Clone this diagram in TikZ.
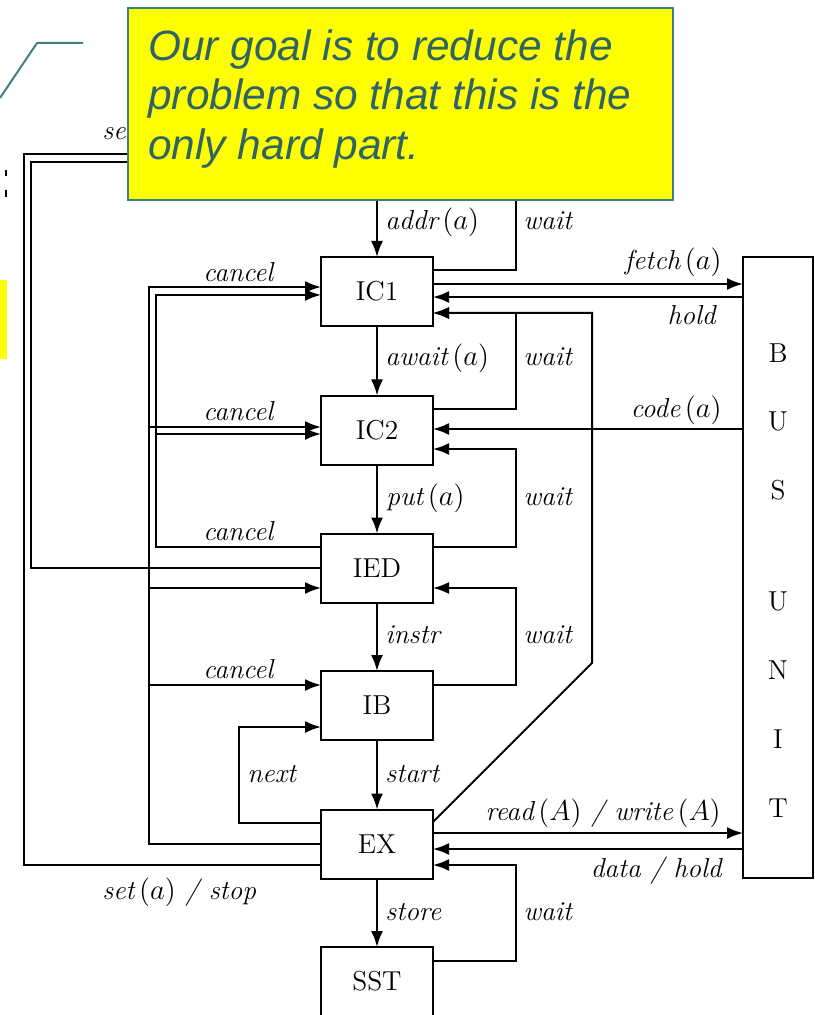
\documentclass[tikz,border=0pt]{standalone}
\usepackage{fontspec}
\newfontfamily\calloutfont{Liberation Sans}
\usetikzlibrary{arrows.meta}
\definecolor{tealline}{RGB}{64,128,128}
\definecolor{tealtext}{RGB}{47,100,100}
\definecolor{callyellow}{RGB}{255,255,0}
\begin{document}
\begin{tikzpicture}[x=0.5pt,y=-0.5pt,
  box/.style={draw, line width=1pt, minimum width=56pt, minimum height=34.5pt, inner sep=0pt, outer sep=0pt, font=\fontsize{13.7}{16}\selectfont},
  letter/.style={inner sep=0pt, font=\fontsize{13.7}{16}\selectfont},
  lbl/.style={inner sep=0pt, font=\fontsize{13.7}{16}\selectfont\itshape},
  lw/.style={lbl, anchor=base west},
  le/.style={lbl, anchor=base east},
  conn/.style={line width=1pt},
  arr/.style={conn, -{Latex[length=8pt,width=6pt]}},
  ctext/.style={inner sep=0pt, anchor=base west, text=tealtext, font=\calloutfont\itshape\fontsize{21.2}{25}\selectfont},
]
\useasboundingbox (0,0) rectangle (814,1015);

% boxes
\node[box] (IC1) at (377,291.5) {IC1};
\node[box] (IC2) at (377,430) {IC2};
\node[box] (IED) at (377,568) {IED};
\node[box] (IB)  at (377,705.5) {IB};
\node[box] (EX)  at (377,844) {EX};
\node[box] (SST) at (377,981.5) {SST};
\node[draw, line width=1pt, minimum width=35pt, minimum height=310.5pt, inner sep=0pt, outer sep=0pt] (BUS) at (778,567.5) {};
\node[letter] (b1) at (778,353) {B};
\node[letter] (b2) at (778,421) {U};
\node[letter] (b3) at (778,490) {S};
\node[letter] (b4) at (778,601) {U};
\node[letter] (b5) at (778,670) {N};
\node[letter] (b6) at (778,739) {I};
\node[letter] (b7) at (778,808) {T};

% free ends
\coordinate (addrtop) at (377,198);
\coordinate (waittop) at (516,198);
\coordinate (setA) at (140,154);
\coordinate (setB) at (140,162);

% vertical arrows
\draw[arr] (addrtop) -- (IC1.north);
\draw[arr] (IC1.south) -- (IC2.north);
\draw[arr] (IC2.south) -- (IED.north);
\draw[arr] (IED.south) -- (IB.north);
\draw[arr] (IB.south) -- (EX.north);
\draw[arr] (EX.south) -- (SST.north);

% wait loops
\draw[conn] (IC1.east |- 0,270.5) -- (516,270.5) -- (waittop);
\draw[arr] (IC2.east |- 0,409) -- (516,409) -- (516,313) -- (IC1.east |- 0,313);
\draw[arr] (IED.east |- 0,547) -- (516,547) -- (516,449) -- (IC2.east |- 0,449);
\draw[arr] (IB.east |- 0,685) -- (516,685) -- (516,588) -- (IED.east |- 0,588);
\draw[arr] (SST.east |- 0,961) -- (516,961) -- (516,865) -- (EX.east |- 0,865);

% EX diagonal back to IC1
\draw[arr] (EX.east |- 0,822) -- (592,663) -- (592,313) -- (IC1.east |- 0,313);

% bus unit connections
\draw[arr] (IC1.east |- 0,284) -- (BUS.west |- 0,284);
\draw[arr] (BUS.west |- 0,297) -- (IC1.east |- 0,297);
\draw[arr] (BUS.west |- 0,429) -- (IC2.east |- 0,429);
\draw[arr] (EX.east |- 0,833) -- (BUS.west |- 0,833);
\draw[arr] (BUS.west |- 0,849) -- (EX.east |- 0,849);

% next
\draw[arr] (EX.west |- 0,823) -- (239,823) -- (239,727) -- (IB.west |- 0,727);

% cancel lines
\draw[arr] (EX.west |- 0,844) -- (149,844) -- (149,287) -- (IC1.west |- 0,287);
\draw[arr] (149,427) -- (IC2.west |- 0,427);
\draw[arr] (149,588) -- (IED.west |- 0,588);
\draw[arr] (149,685) -- (IB.west |- 0,685);
\draw[arr] (IED.west |- 0,547) -- (156,547) -- (156,295) -- (IC1.west |- 0,295);
\draw[arr] (156,434) -- (IC2.west |- 0,434);

% set / stop lines
\draw[conn] (EX.west |- 0,865) -- (24,865) -- (24,154) -- (setA);
\draw[conn] (IED.west |- 0,568) -- (31,568) -- (31,162) -- (setB);

% labels
\node[lw] (l1) at (385,230) {addr\,$(a)$};
\node[lw] (l2) at (523,230) {wait};
\node[lw] (l3) at (385,365) {await\,$(a)$};
\node[lw] (l4) at (523,365) {wait};
\node[lw] (l5) at (386,505) {put\,$(a)$};
\node[lw] (l6) at (523,505) {wait};
\node[lw] (l7) at (385,643) {instr};
\node[lw] (l8) at (523,643) {wait};
\node[lw] (l9) at (385,782) {start};
\node[lw] (l10) at (385,920) {store};
\node[lw] (l11) at (523,920) {wait};
\node[lw] (l12) at (247,782) {next};
\node[lw] (c1) at (203,282) {cancel};
\node[lw] (c2) at (203,420) {cancel};
\node[lw] (c3) at (203,540) {cancel};
\node[lw] (c4) at (203,678) {cancel};
\node[lw] (s1) at (102,899) {set\,$(a)$ / stop};
\node[lw] (s2) at (102,140) {se};
\node[le] (f1) at (722,270) {fetch\,$(a)$};
\node[le] (f2) at (716,325) {hold};
\node[le] (f3) at (722,417) {code\,$(a)$};
\node[le] (f4) at (721,820) {read\,$(A)$ / write\,$(A)$};
\node[le] (f5) at (722,877) {data / hold};

% decorations at the left edge
\draw[tealline, line width=1pt] (0,98) -- (37,43) -- (83,43);
\draw[line width=1pt] (6,170) -- (6,176);
\draw[line width=1pt] (6,190) -- (6,197);
\fill[callyellow] (0,280) rectangle (7,359);

% callout
\node[draw=tealline, line width=1pt, fill=callyellow, minimum width=272.5pt, minimum height=96pt, inner sep=0pt, outer sep=0pt] (callout) at (400.5,104) {};
\node[ctext] (t1) at (148,61) {Our goal is to reduce the};
\node[ctext] (t2) at (148,110) {problem so that this is the};
\node[ctext] (t3) at (148,160) {only hard part.};
\end{tikzpicture}
\end{document}
